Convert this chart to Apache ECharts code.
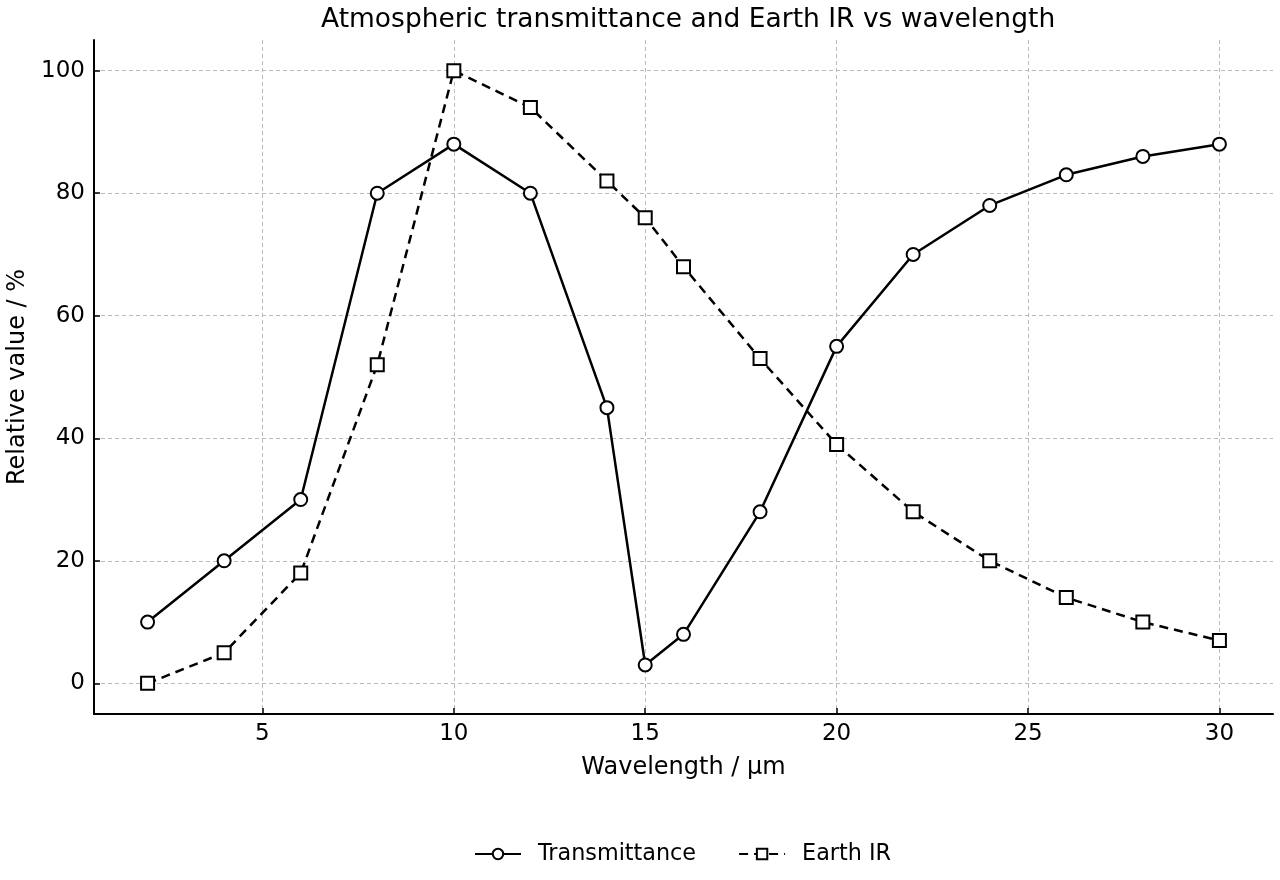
<!DOCTYPE html>
<html>
<head>
<meta charset="utf-8">
<script src="https://cdn.jsdelivr.net/npm/echarts@6/dist/echarts.min.js"></script>
<style>
  html, body { margin: 0; padding: 0; background: #fff; }
  #chart { width: 1280px; height: 880px; }
</style>
</head>
<body>
<div id="chart"></div>
<script>
// wavelength in µm
var wavelength = [2, 4, 6, 8, 10, 12, 14, 15, 16, 18, 20, 22, 24, 26, 28, 30];
var transmittance = [10, 20, 30, 80, 88, 80, 45, 3, 8, 28, 55, 70, 78, 83, 86, 88];
var earthIR = [0, 5, 18, 52, 100, 94, 82, 76, 68, 53, 39, 28, 20, 14, 10, 7];
var xTicks = [5, 10, 15, 20, 25, 30];
var yTicks = [0, 20, 40, 60, 80, 100];

var myChart = echarts.init(document.getElementById('chart'));

function pairs(ys) {
    return wavelength.map(function (x, i) { return [x, ys[i]]; });
}

var font = 'DejaVu Sans';

var option = {
    animation: false,
    textStyle: { fontFamily: font },
    title: {
        text: 'Atmospheric transmittance and Earth IR vs wavelength',
        left: 316,
        top: 2,
        textStyle: { fontFamily: font, fontSize: 26.5, fontWeight: 'normal', color: '#000' }
    },
    legend: {
        bottom: 10,
        left: 469,
        itemWidth: 46,
        itemHeight: 13,
        itemGap: 42,
        textStyle: { fontFamily: font, fontSize: 22.3, color: '#000', padding: [0, 0, 0, 12] },
        data: ['Transmittance', 'Earth IR']
    },
    grid: { left: 94, right: 7, top: 40, bottom: 166, outerBoundsMode: 'none' },
    xAxis: {
        type: 'value',
        min: 0.6,
        max: 31.4,
        name: 'Wavelength / µm',
        nameLocation: 'middle',
        nameGap: 42,
        nameTextStyle: { fontSize: 24, color: '#000' },
        axisLine: { onZero: false, lineStyle: { color: '#000', width: 2 } },
        axisTick: { inside: true, length: 6, customValues: xTicks, lineStyle: { color: '#000', width: 1.5 } },
        axisLabel: { customValues: xTicks, fontSize: 23, color: '#000', margin: 9 },
        splitLine: { show: true, lineStyle: { color: '#bbb', type: [4, 3], width: 1 } }
    },
    yAxis: {
        type: 'value',
        min: -5,
        max: 105,
        name: 'Relative value / %',
        nameLocation: 'middle',
        nameGap: 62,
        nameTextStyle: { fontSize: 24, color: '#000' },
        axisLine: { show: true, onZero: false, lineStyle: { color: '#000', width: 2 } },
        axisTick: { show: true, inside: true, length: 6, customValues: yTicks, lineStyle: { color: '#000', width: 1.5 } },
        axisLabel: { customValues: yTicks, fontSize: 23, color: '#000', margin: 9 },
        splitLine: { show: true, lineStyle: { color: '#bbb', type: [4, 3], width: 1 } }
    },
    series: [
        {
            name: 'Transmittance',
            type: 'line',
            data: pairs(transmittance),
            symbol: 'circle',
            symbolSize: 13,
            lineStyle: { color: '#000', width: 2.5 },
            itemStyle: { color: '#fff', borderColor: '#000', borderWidth: 2 },
            z: 3
        },
        {
            name: 'Earth IR',
            type: 'line',
            data: pairs(earthIR),
            symbol: 'rect',
            symbolSize: 13,
            lineStyle: { color: '#000', width: 2.5, type: [9, 6] },
            itemStyle: { color: '#fff', borderColor: '#000', borderWidth: 2 },
            z: 3
        }
    ]
};

myChart.setOption(option);
</script>
</body>
</html>
